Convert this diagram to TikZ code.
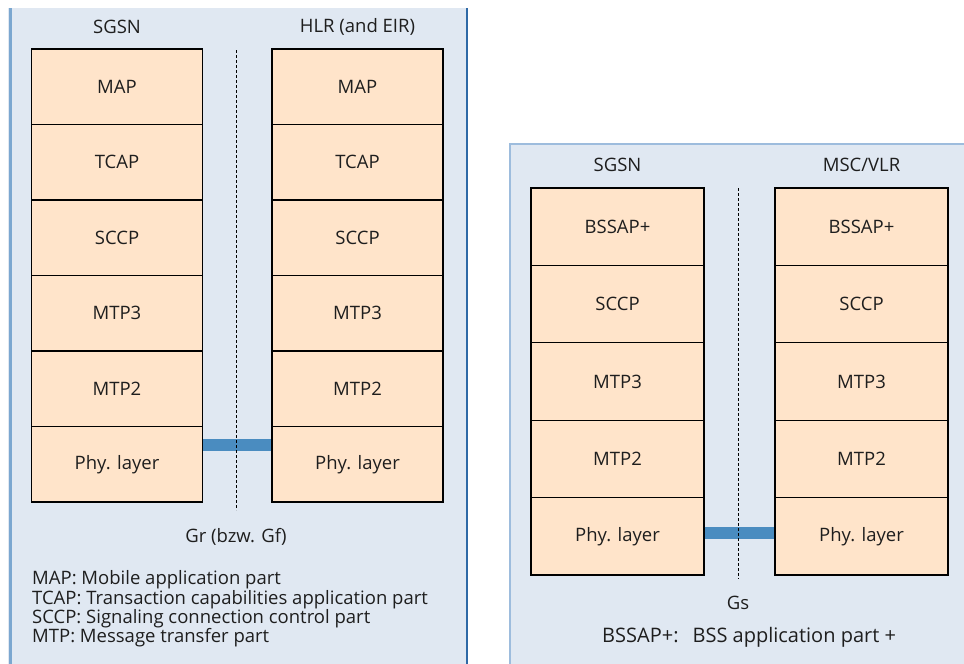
\documentclass[tikz,border=0pt]{standalone}
\usepackage{fontspec}
\setmainfont{Open Sans}
\definecolor{panelbg}{HTML}{E0E8F2}
\definecolor{panelL}{HTML}{7BA7D0}
\definecolor{panelR}{HTML}{2F69A6}
\definecolor{panelT}{HTML}{9DBCDD}
\definecolor{boxfill}{HTML}{FFE4CA}
\definecolor{barblue}{HTML}{4A8CC0}
\definecolor{txt}{HTML}{1E1E1E}
\tikzset{
  layerL/.style={draw=black, line width=1.1pt, fill=boxfill, minimum width=171pt, minimum height=75.5pt, inner sep=0pt, text=txt, font=\fontsize{18.5}{20}\selectfont},
  layerR/.style={draw=black, line width=1.1pt, fill=boxfill, minimum width=173pt, minimum height=77.4pt, inner sep=0pt, text=txt, font=\fontsize{18.5}{20}\selectfont},
  title/.style={text=txt, inner sep=0pt, font=\fontsize{18.5}{20}\selectfont},
  legend/.style={text=txt, inner sep=0pt, anchor=west, font=\fontsize{18.5}{19}\selectfont},
  bar/.style={draw=barblue, line width=12pt},
  sep/.style={draw=black, line width=1pt, dash pattern=on 3pt off 2pt}
}
\begin{document}
\begin{tikzpicture}[x=1pt,y=-1pt]
\useasboundingbox (0,0) rectangle (964,664);
% panels
\fill[panelbg] (8,8) rectangle (468,664);
\draw[panelL, line width=3pt] (10,8) -- (10,664);
\draw[panelR, line width=2pt] (467,8) -- (467,664);
\fill[panelbg] (509,143) rectangle (964,664);
\draw[panelT, line width=2pt] (509.5,664) -- (509.5,143.5) -- (964,143.5);

% left diagram
\node[title] (t1) at (117,27) {SGSN};
\node[title] (t2) at (357.5,27) {HLR (and EIR)};
\node[layerL] (a1) at (117,86.75) {MAP};
\node[layerL] (a2) at (117,162.25) {TCAP};
\node[layerL] (a3) at (117,237.75) {SCCP};
\node[layerL] (a4) at (117,313.25) {MTP3};
\node[layerL] (a5) at (117,388.75) {MTP2};
\node[layerL] (a6) at (117,464.25) {Phy. layer};
\node[layerL] (b1) at (357.5,86.75) {MAP};
\node[layerL] (b2) at (357.5,162.25) {TCAP};
\node[layerL] (b3) at (357.5,237.75) {SCCP};
\node[layerL] (b4) at (357.5,313.25) {MTP3};
\node[layerL] (b5) at (357.5,388.75) {MTP2};
\node[layerL] (b6) at (357.5,464.25) {Phy. layer};
\coordinate (d1t) at (236,50);
\coordinate (d1b) at (236,510);
\draw[bar] ([yshift=19pt]a6.east) -- ([yshift=19pt]b6.west);
\draw[sep] (d1t) -- (d1b);
\node[title] (gr) at (236,537) {Gr (bzw. Gf)};
\node[legend] (l1) at (32,580) {MAP: Mobile application part};
\node[legend] (l2) at (32,599.5) {TCAP: Transaction capabilities application part};
\node[legend] (l3) at (32,619) {SCCP: Signaling connection control part};
\node[legend] (l4) at (32,638) {MTP: Message transfer part};

% right diagram
\node[title] (t3) at (617.5,165) {SGSN};
\node[title] (t4) at (861.5,165) {MSC/VLR};
\node[layerR] (c1) at (617.5,226.7) {BSSAP+};
\node[layerR] (c2) at (617.5,304.1) {SCCP};
\node[layerR] (c3) at (617.5,381.5) {MTP3};
\node[layerR] (c4) at (617.5,458.9) {MTP2};
\node[layerR] (c5) at (617.5,536.3) {Phy. layer};
\node[layerR] (e1) at (861.5,226.7) {BSSAP+};
\node[layerR] (e2) at (861.5,304.1) {SCCP};
\node[layerR] (e3) at (861.5,381.5) {MTP3};
\node[layerR] (e4) at (861.5,458.9) {MTP2};
\node[layerR] (e5) at (861.5,536.3) {Phy. layer};
\coordinate (d2t) at (738,188);
\coordinate (d2b) at (738,579);
\draw[bar] ([yshift=3pt]c5.east) -- ([yshift=3pt]e5.west);
\draw[sep] (d2t) -- (d2b);
\node[title] (gs) at (738,603) {Gs};
\node[legend, font=\fontsize{20}{21}\selectfont] (l5) at (602,637) {BSSAP+:\hspace{0.7em}BSS application part +};
\end{tikzpicture}
\end{document}
